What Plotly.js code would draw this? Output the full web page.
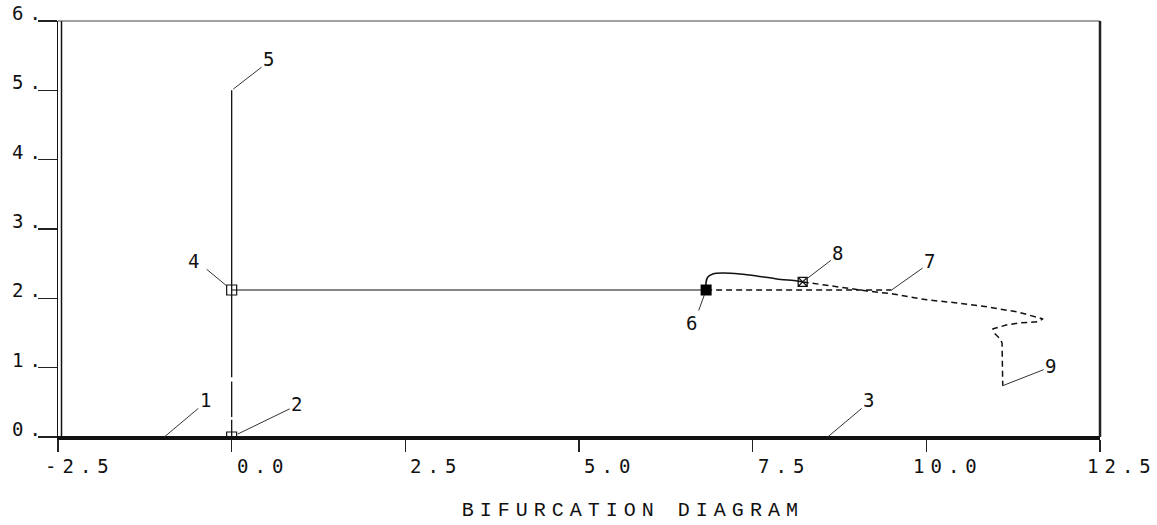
<!DOCTYPE html>
<html>
<head>
<meta charset="utf-8">
<script src="https://cdn.plot.ly/plotly-3.0.1.min.js"></script>
<style>
  html, body { margin: 0; padding: 0; background: #fff; }
  text.annotation-text { letter-spacing: 6px; }
  text.gtitle { letter-spacing: 6px; }
</style>
</head>
<body>
<div id="chart" style="width:1157px;height:525px;"></div>
<script>
// ---- tick labels ----
const xTickVals = [-2.5, 0, 2.5, 5, 7.5, 10, 12.5];
const xTickText = ['-2.5', '0.0', '2.5', '5.0', '7.5', '10.0', '12.5'];
const yTickVals = [0, 1, 2, 3, 4, 5, 6];
const yTickText = ['0.', '1.', '2.', '3.', '4.', '5.', '6.'];

// ---- branches ----
// trivial branch (labels 1 -> 3)
const trivialX = [-2.5, 12.5];
const trivialY = [0, 0];
// vertical branch (labels 2 -> 4 -> 5)
const verticalX = [0, 0, null, 0, 0, null, 0, 0];
const verticalY = [0, 0.25, null, 0.29, 0.80, null, 0.86, 5.0];
// horizontal branch, stable part (4 -> 6)
const horizStableX = [0, 6.83];
const horizStableY = [2.12, 2.12];
// horizontal branch, unstable part (6 -> 7)
const horizUnstableX = [6.83, 9.5];
const horizUnstableY = [2.12, 2.12];
// secondary branch from 6, stable part (6 -> 8)
const secStableX = [6.826, 6.83, 6.855, 6.927, 7.071, 7.316, 7.561, 7.849, 8.137, 8.22];
const secStableY = [2.12, 2.237, 2.309, 2.352, 2.366, 2.352, 2.323, 2.280, 2.251, 2.237];
// secondary branch, unstable part (8 -> 9)
const secUnstableX = [8.22, 8.511, 8.799, 9.145, 9.519, 9.764, 10.009, 10.441, 10.873, 11.305, 11.68,
                      11.593, 11.348, 11.161, 10.96, 10.974, 11.061, 11.09, 11.09, 11.09, 11.10];
const secUnstableY = [2.237, 2.194, 2.150, 2.107, 2.064, 2.021, 1.978, 1.934, 1.877, 1.805, 1.704,
                      1.661, 1.647, 1.618, 1.560, 1.502, 1.416, 1.358, 1.113, 0.926, 0.74];

// ---- special points ----
const openSquareX = [0, 0];
const openSquareY = [0, 2.12];
const filledSquareX = [6.83];
const filledSquareY = [2.12];
const crossBoxX = [8.22];
const crossBoxY = [2.237];

// ---- numbered labels ----
const labelText = ['1', '2', '3', '4', '5', '6', '7', '8', '9'];
const labelX = [-0.97, 0, 8.58, 0, 0, 6.83, 9.5, 8.22, 11.10];
const labelY = [0, 0, 0, 2.12, 5.0, 2.12, 2.12, 2.237, 0.74];

// label offsets (pixels) -- styling, not data
const labelOffsets = [[44, -37], [68, -33], [44, -37], [-35, -29], [40, -31], [-12, 33], [41, -29], [38, -29], [51, -20]];
const labelStandoff = [0, 7, 0, 7, 2, 5, 0, 4, 0];

const ink = '#111';
const lineStyle = (dash, w) => ({ color: ink, width: w || 1.3, dash: dash || 'solid' });

const traces = [
  { x: trivialX, y: trivialY, mode: 'lines', line: lineStyle('solid', 2), hoverinfo: 'skip' },
  { x: verticalX, y: verticalY, mode: 'lines', line: lineStyle('solid', 1.3), connectgaps: false, hoverinfo: 'skip' },
  { x: horizStableX, y: horizStableY, mode: 'lines', line: lineStyle('solid', 1.2), hoverinfo: 'skip' },
  { x: horizUnstableX, y: horizUnstableY, mode: 'lines', line: lineStyle('6px,4px', 1.3), hoverinfo: 'skip' },
  { x: secStableX, y: secStableY, mode: 'lines', line: Object.assign(lineStyle('solid', 1.6), { shape: 'spline', smoothing: 0.6 }), hoverinfo: 'skip' },
  { x: secUnstableX, y: secUnstableY, mode: 'lines', line: lineStyle('6px,4px', 1.5), hoverinfo: 'skip' },
  { x: openSquareX, y: openSquareY, mode: 'markers', marker: { symbol: 'square-open', size: 10, color: ink, line: { width: 1.2, color: ink } }, hoverinfo: 'skip' },
  { x: filledSquareX, y: filledSquareY, mode: 'markers', marker: { symbol: 'square', size: 11, color: '#000' }, hoverinfo: 'skip' },
  { x: crossBoxX, y: crossBoxY, mode: 'markers', marker: { symbol: 'square-x-open', size: 9, color: ink, line: { width: 1.3, color: ink } }, hoverinfo: 'skip' }
];

const tickFont = { family: 'DejaVu Sans Mono', size: 19, color: ink };
const annotations = [];

xTickVals.forEach((v, i) => annotations.push({
  x: v, y: 0, xref: 'x', yref: 'y', text: xTickText[i], showarrow: false,
  xanchor: 'right', yanchor: 'top', xshift: 59, yshift: -16, font: tickFont
}));
yTickVals.forEach((v, i) => annotations.push({
  x: -2.5, y: v, xref: 'x', yref: 'y', text: yTickText[i], showarrow: false,
  xanchor: 'right', yanchor: 'bottom', xshift: -9, yshift: -5, font: tickFont
}));
labelText.forEach((t, i) => annotations.push({
  x: labelX[i], y: labelY[i], xref: 'x', yref: 'y', text: t,
  showarrow: true, arrowhead: 0, arrowwidth: 1, arrowcolor: '#333',
  ax: labelOffsets[i][0], ay: labelOffsets[i][1], standoff: labelStandoff[i],
  font: tickFont
}));

const layout = {
  width: 1157, height: 525,
  margin: { l: 58, r: 57, t: 21, b: 88, pad: 0 },
  paper_bgcolor: '#fff', plot_bgcolor: '#fff',
  showlegend: false,
  title: {
    text: 'BIFURCATION DIAGRAM',
    font: { family: 'Liberation Mono', size: 20, color: ink },
    x: 0.547, xref: 'container', xanchor: 'center',
    y: 0.03, yref: 'container', yanchor: 'middle'
  },
  xaxis: {
    range: [-2.5, 12.5], tickvals: xTickVals, ticktext: xTickText, showticklabels: false,
    ticks: 'outside', ticklen: 12, tickwidth: 1.5, tickcolor: '#222',
    showline: true, linewidth: 2.5, linecolor: '#111',
    showgrid: false, zeroline: false, fixedrange: true
  },
  yaxis: {
    range: [0, 6], tickvals: yTickVals, ticktext: yTickText, showticklabels: false,
    ticks: 'outside', ticklen: 19, tickwidth: 1.2, tickcolor: '#222',
    showline: true, linewidth: 1.5, linecolor: '#111',
    showgrid: false, zeroline: false, fixedrange: true
  },
  shapes: [
    { type: 'line', xref: 'x', xsizemode: 'pixel', xanchor: -2.5, x0: 3.5, x1: 3.5, yref: 'paper', y0: 0, y1: 1, line: { color: '#111', width: 1.5 } },
    { type: 'line', xref: 'paper', yref: 'paper', x0: 0, x1: 1, y0: 1, y1: 1, line: { color: '#444', width: 1 } },
    { type: 'line', xref: 'paper', yref: 'paper', x0: 1, x1: 1, y0: 0, y1: 1, line: { color: '#222', width: 2.5 } }
  ],
  annotations: annotations
};

Plotly.newPlot('chart', traces, layout, { displayModeBar: false, staticPlot: true });
</script>
</body>
</html>
